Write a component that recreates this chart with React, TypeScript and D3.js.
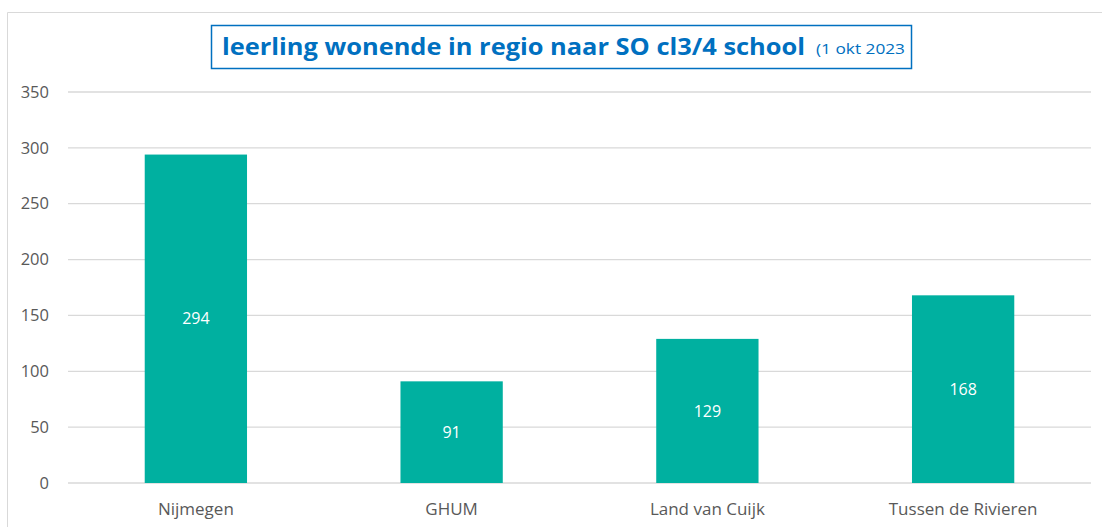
import React from 'react';
import * as d3 from 'd3';

const categories = ['Nijmegen', 'GHUM', 'Land van Cuijk', 'Tussen de Rivieren'];
const values = [294, 91, 129, 168];
const yTicks = [0, 50, 100, 150, 200, 250, 300, 350];
const titleMain = 'leerling wonende in regio naar SO cl3/4 school';
const titleSub = '(1 okt 2023';

const W = 1102;
const H = 527;
const margin = { top: 92, right: 11, bottom: 44, left: 68 };
const font = 'Open Sans, Noto Sans, sans-serif';

export default function App() {
  const x = d3.scaleBand<string>()
    .domain(categories)
    .range([margin.left, W - margin.right])
    .paddingInner(0.6)
    .paddingOuter(0.3);
  const y = d3.scaleLinear()
    .domain([0, 350])
    .range([H - margin.bottom, margin.top]);

  return (
    <div style={{ position: 'absolute', left: 0, top: 0 }}>
      <svg width={W} height={H} style={{ display: 'block', fontFamily: font }}>
        <rect width={W} height={H} fill="#fff" />
        {/* chart border, only top and left visible */}
        <line x1={7.5} x2={W} y1={12.5} y2={12.5} stroke="#d9d9d9" />
        <line x1={7.5} x2={7.5} y1={12.5} y2={H} stroke="#d9d9d9" />

        {yTicks.map(t => (
          <g key={t}>
            <line x1={margin.left} x2={W - margin.right} y1={y(t)} y2={y(t)} stroke="#d9d9d9" strokeWidth={1.3} />
            <text x={49} y={y(t)} dy="0.35em" textAnchor="end" fontSize={16.5} fill="#595959">{t}</text>
          </g>
        ))}

        {categories.map((c, i) => (
          <g key={c}>
            <rect x={x(c)} y={y(values[i])} width={x.bandwidth()} height={y(0) - y(values[i])} fill="#00b0a0" />
            <text x={x(c)! + x.bandwidth() / 2} y={(y(values[i]) + y(0)) / 2} dy="0.35em"
              textAnchor="middle" fontSize={16} fill="#fff">{values[i]}</text>
            <text x={x(c)! + x.bandwidth() / 2} y={y(0) + 26} dy="0.35em"
              textAnchor="middle" fontSize={17} fill="#595959">{c}</text>
          </g>
        ))}

        <rect x={211.5} y={25.5} width={700} height={43} fill="#fff" stroke="#0070c0" strokeWidth={1.5} />
        <text x={222} y={47} dy="0.35em" fontSize={24} fontWeight="bold" fill="#0070c0"
          textLength={583} lengthAdjust="spacingAndGlyphs">{titleMain}</text>
        <text x={816} y={49} dy="0.35em" fontSize={14} fill="#0070c0"
          textLength={89} lengthAdjust="spacingAndGlyphs">{titleSub}</text>
      </svg>
    </div>
  );
}
